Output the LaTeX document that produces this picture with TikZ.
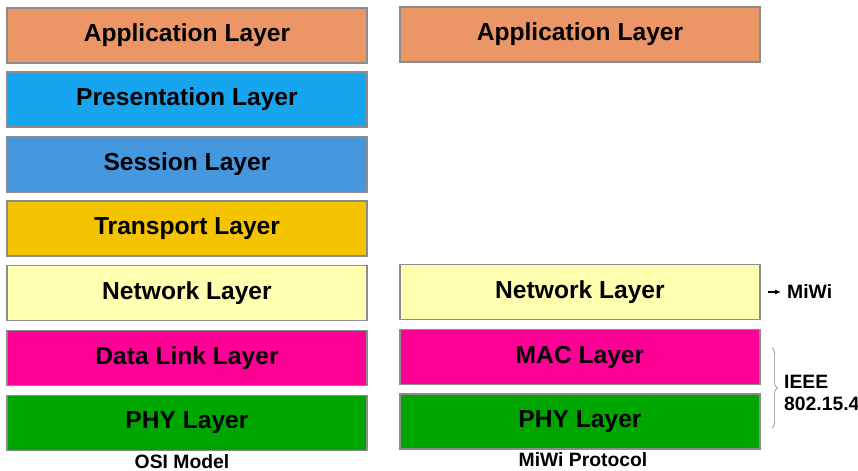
\documentclass[tikz,border=0pt]{standalone}
\usepackage{fontspec}
\setmainfont{Liberation Sans}
\usepackage{tikz}
\usetikzlibrary{arrows.meta, positioning, decorations.pathreplacing}

\definecolor{appcol}{RGB}{236,150,104}
\definecolor{prescol}{RGB}{22,166,240}
\definecolor{sesscol}{RGB}{70,152,222}
\definecolor{transcol}{RGB}{244,196,0}
\definecolor{netcol}{RGB}{255,255,176}
\definecolor{linkcol}{RGB}{255,0,150}
\definecolor{phycol}{RGB}{0,166,0}

\begin{document}
\begin{tikzpicture}[
    layer/.style={rectangle, draw=black!45, line width=0.6pt, minimum width=7.2cm, minimum height=1.1cm,
                  font=\fontsize{14}{16}\selectfont\bfseries},
    caption/.style={font=\fontsize{11}{13}\selectfont\bfseries}
]
    \useasboundingbox (0,0) rectangle (17.16,9.42);

    % OSI 模型
    \begin{scope}[shift={(3.74,0)}]
        \node[layer, fill=appcol]   (app)   at (0, 8.71) {Application Layer};
        \node[layer, fill=prescol]  (pres)  at (0, 7.43) {Presentation Layer};
        \node[layer, fill=sesscol]  (sess)  at (0, 6.13) {Session Layer};
        \node[layer, fill=transcol] (trans) at (0, 4.85) {Transport Layer};
        \node[layer, fill=netcol]   (net)   at (0, 3.56) {Network Layer};
        \node[layer, fill=linkcol]  (link)  at (0, 2.26) {Data Link Layer};
        \node[layer, fill=phycol]   (phy)   at (0, 0.96) {PHY Layer};
        \node[caption] (osi) at (-0.1, 0.18) {OSI Model};
    \end{scope}

    % MiWi 协议栈
    \begin{scope}[shift={(11.6,0)}]
        \node[layer, fill=appcol]  (mapp) at (0, 8.73) {Application Layer};
        \node[layer, fill=netcol]  (mnet) at (0, 3.58) {Network Layer};
        \node[layer, fill=linkcol] (mmac) at (0, 2.28) {MAC Layer};
        \node[layer, fill=phycol]  (mphy) at (0, 0.99) {PHY Layer};
        \node[caption] (miwiproto) at (0.06, 0.22) {MiWi Protocol};
    \end{scope}

    % 右侧标注
    \coordinate (arrstart) at (15.36, 3.58);
    \node[caption, anchor=west] (miwi) at (15.62, 3.58) {MiWi};
    \draw[-{Latex[length=1.2mm, width=1mm]}, line width=0.6pt] (arrstart) -- (miwi.west);

    \coordinate (bracetop) at (15.44, 2.46);
    \coordinate (bracebot) at (15.44, 0.86);
    \draw[black!45, decorate, decoration={brace, amplitude=3pt}] (bracetop) -- (bracebot);
    \node[caption, anchor=west, align=left] (ieee) at (15.56, 1.56) {IEEE\\802.15.4};
\end{tikzpicture}
\end{document}
